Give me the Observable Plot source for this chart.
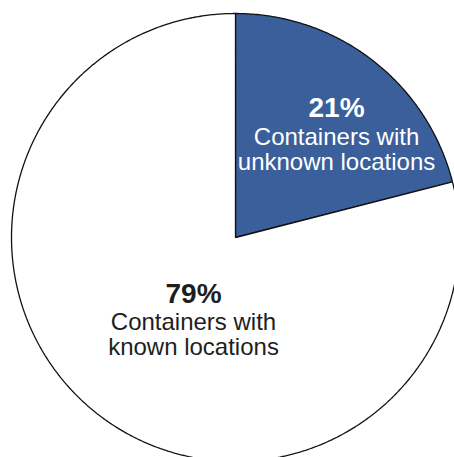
<!DOCTYPE html>
<html>
<head>
<meta charset="utf-8">
<script src="https://cdn.jsdelivr.net/npm/d3@7"></script>
<script src="https://cdn.jsdelivr.net/npm/@observablehq/plot@0.6"></script>
<style>
  html, body { margin: 0; padding: 0; background: #fff; overflow: hidden; }
  #chart svg { overflow: hidden; display: block; }
</style>
</head>
<body>
<div id="chart"></div>
<script>
// ---- data ----
const categories = ["Containers with unknown locations", "Containers with known locations"];
const shares = [21, 79];
const pctLabels = ["21%", "79%"];
const descLabels = ["Containers with\nunknown locations", "Containers with\nknown locations"];

// ---- styling / layout ----
const sliceColors = ["#3a5f9a", "#ffffff"];
const textColors = ["#ffffff", "#1e1e1e"];
// label anchors in unit-circle coords: [x, yPercent, yDescription]
const labelAt = [[0.451, 0.626, 0.490], [-0.1875, -0.203, -0.332]];

const pie = d3.pie().sort(null).startAngle(0).endAngle(2 * Math.PI)(shares);

// polygon points for each slice (center + arc), computed from the pie angles
const slicePoints = pie.map((a, i) => {
  const n = Math.max(2, Math.ceil((a.endAngle - a.startAngle) / (Math.PI / 360)));
  const pts = [{i, x: 0, y: 0}];
  for (let k = 0; k <= n; k++) {
    const t = a.startAngle + (a.endAngle - a.startAngle) * k / n;
    pts.push({i, x: Math.sin(t), y: Math.cos(t)});
  }
  return pts;
});

const labels = categories.map((c, i) => ({
  i, pct: pctLabels[i], desc: descLabels[i],
  x: labelAt[i][0], yp: labelAt[i][1], yd: labelAt[i][2]
}));

const font = "'Liberation Sans', Arial, Helvetica, sans-serif";

const chart = Plot.plot({
  width: 454,
  height: 457,
  margin: 0,
  x: {domain: [-1, 1], range: [11, 459], axis: null},
  y: {domain: [-1, 1], range: [461, 13], axis: null},
  style: {background: "#fff", fontFamily: font},
  marks: [
    ...slicePoints.map((pts, i) => Plot.line(pts, {
      x: "x", y: "y", curve: "linear-closed",
      fill: sliceColors[i], stroke: "#111", strokeWidth: 1.3, strokeLinejoin: "miter"
    })),
    Plot.text(labels, {
      x: "x", y: "yp", text: "pct", textAnchor: "middle", lineAnchor: "top",
      fontSize: 28, fontWeight: "bold", fontFamily: font,
      fill: d => textColors[d.i]
    }),
    Plot.text(labels, {
      x: "x", y: "yd", text: "desc", textAnchor: "middle", lineAnchor: "top",
      fontSize: 24, lineHeight: 25 / 24, fontFamily: font,
      fill: d => textColors[d.i]
    })
  ]
});
document.getElementById("chart").appendChild(chart);
</script>
</body>
</html>
